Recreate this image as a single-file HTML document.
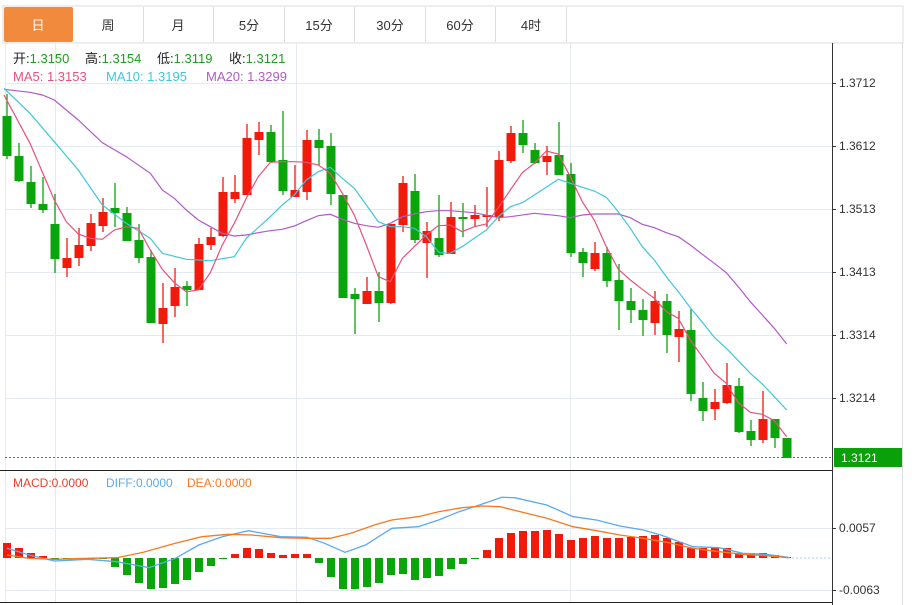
<!DOCTYPE html>
<html><head><meta charset="utf-8"><style>
body{margin:0;background:#fff;font-family:"Liberation Sans","Noto Sans CJK SC",sans-serif;}
svg{display:block}
</style></head><body>
<svg id="s" width="912" height="605" xmlns="http://www.w3.org/2000/svg" font-family="Liberation Sans, Noto Sans CJK SC, sans-serif">
<rect x="0" y="0" width="912" height="605" fill="#fff"/>
<rect x="3" y="6" width="900" height="37" fill="#fff" stroke="#dcdcdc"/>
<rect x="4" y="7" width="69" height="35" rx="2" fill="#f28a3e"/>
<g stroke="#dcdcdc"><line x1="143.5" y1="7" x2="143.5" y2="42"/><line x1="213.5" y1="7" x2="213.5" y2="42"/><line x1="284.5" y1="7" x2="284.5" y2="42"/><line x1="354.5" y1="7" x2="354.5" y2="42"/><line x1="425.5" y1="7" x2="425.5" y2="42"/><line x1="495.5" y1="7" x2="495.5" y2="42"/><line x1="566.5" y1="7" x2="566.5" y2="42"/><line x1="902.5" y1="42" x2="902.5" y2="605"/></g>
<g font-size="13" text-anchor="middle" fill="#333"><text x="38" y="30" fill="#fff">日</text><text x="108" y="30">周</text><text x="178" y="30">月</text><text x="249" y="30">5分</text><text x="319" y="30">15分</text><text x="390" y="30">30分</text><text x="460" y="30">60分</text><text x="531" y="30">4时</text></g>
<g id="grid" stroke="#e4eaf0" stroke-width="1"></g>
<g font-size="13"><text y="63" fill="#222"><tspan x="13">开:</tspan><tspan fill="#1aa01a">1.3150</tspan><tspan x="85">高:</tspan><tspan fill="#1aa01a">1.3154</tspan><tspan x="157">低:</tspan><tspan fill="#1aa01a">1.3119</tspan><tspan x="229">收:</tspan><tspan fill="#1aa01a">1.3121</tspan></text>
<text y="81" fill="#e9507a"><tspan x="13">MA5: 1.3153</tspan><tspan fill="#3fc6dc" x="106">MA10: 1.3195</tspan><tspan fill="#b05ac8" x="206">MA20: 1.3299</tspan></text></g>
<g id="c"></g>
<g id="m"></g>
<line x1="832.5" y1="43" x2="832.5" y2="605" stroke="#333"/>
<line x1="0" y1="470.5" x2="832" y2="470.5" stroke="#222"/>
<line x1="0" y1="602.5" x2="832" y2="602.5" stroke="#222"/>
<line x1="5" y1="457.5" x2="832" y2="457.5" stroke="#1aa01a" stroke-dasharray="2,2"/>
<rect x="834" y="448" width="68" height="19" fill="#0aa00a"/>
<text x="841" y="462" font-size="12" fill="#fff">1.3121</text>
<g font-size="12" fill="#333" id="lab"></g>
<text y="487" font-size="12" fill="#f03c28"><tspan x="13">MACD:0.0000</tspan><tspan fill="#5aaaf0" x="106">DIFF:0.0000</tspan><tspan fill="#f57a20" x="187">DEA:0.0000</tspan></text>
</svg>
<script>
var NS="http://www.w3.org/2000/svg";
function el(p,t,a){var e=document.createElementNS(NS,t);for(var k in a)e.setAttribute(k,a[k]);p.appendChild(e);return e;}
var g=document.getElementById('grid'),lab=document.getElementById('lab');
[[83,'1.3712'],[146,'1.3612'],[209,'1.3513'],[272,'1.3413'],[335,'1.3314'],[398,'1.3214'],[528,'0.0057'],[590,'-0.0063']].forEach(function(r){
el(g,'line',{x1:5,y1:r[0]+.5,x2:832,y2:r[0]+.5});
el(lab,'line',{x1:832,y1:r[0]+.5,x2:836,y2:r[0]+.5,stroke:'#333'});
var t=el(lab,'text',{x:839,y:r[0]+4});t.textContent=r[1];});
[55,296,570].forEach(function(x){el(g,'line',{x1:x+.5,y1:43,x2:x+.5,y2:602});});
el(g,'line',{x1:5.5,y1:43,x2:5.5,y2:602});
var C=[[1,116,156,94,159],[1,156,181,143,182],[1,182,204,166,208],[1,204,210,177,213],[1,224,259,194,273],[0,258,268,238,277],[0,245,258,228,266],[0,223,246,214,251],[0,212,226,198,232],[1,208,213,183,227],[1,213,241,207,241],[1,240,258,224,263],[1,257,323,250,323],[0,308,324,283,343],[0,287,306,268,317],[1,286,290,281,306],[0,244,290,238,290],[0,237,245,228,250],[0,192,236,177,237],[0,192,199,175,203],[0,138,195,124,195],[0,132,140,122,155],[1,132,162,125,162],[1,160,191,111,195],[0,190,197,165,197],[0,140,192,130,200],[1,140,148,129,166],[1,146,194,133,205],[1,195,298,195,298],[1,294,299,288,334],[0,291,304,277,304],[1,291,303,272,322],[0,224,303,224,304],[0,183,225,176,232],[1,191,240,174,243],[0,231,243,222,278],[1,238,255,195,257],[0,217,254,202,254],[1,217,219,203,237],[0,215,219,205,227],[0,215,217,187,227],[0,160,217,151,221],[0,133,161,126,163],[1,133,145,120,153],[1,150,163,143,164],[0,156,162,146,175],[1,155,175,122,175],[1,174,253,163,257],[1,252,263,248,277],[0,253,269,242,271],[1,253,281,247,287],[1,280,301,264,330],[1,301,310,288,323],[1,310,320,299,336],[0,301,323,291,335],[1,301,335,294,353],[0,329,337,311,362],[1,330,394,309,401],[1,398,411,382,421],[0,402,409,389,420],[0,385,403,363,404],[1,386,432,378,433],[1,431,440,420,446],[0,419,440,391,443],[1,419,438,419,448],[1,438,458,438,458]];
var cg=document.getElementById('c');
C.forEach(function(c,i){var x=7+12*i,col=c[0]?'#0aa50a':'#f21a0a';
el(cg,'line',{x1:x,y1:c[3],x2:x,y2:c[4],stroke:col,'stroke-width':1.3});
el(cg,'rect',{x:x-4.5,y:c[1],width:9,height:Math.max(1.5,c[2]-c[1]),fill:col});});
function pl(pts,col,f,ox){var s=pts.map(function(p){return (ox+p[0]/f).toFixed(1)+','+(80+p[1]/3).toFixed(1)}).join(' ');el(cg,'polyline',{points:s,fill:'none',stroke:col,'stroke-width':1.2});}
var ma5a=[[12,45],[90,190],[163,360],[199,425],[235,462],[271,475],[307,478],[343,450],[379,440],[415,445],[451,510],[487,568],[523,608],[559,635],[595,630],[631,578],[667,495],[703,430],[739,355],[775,290],[811,247],[847,245],[883,245],[919,247],[955,255],[991,280],[1027,340],[1063,405],[1099,495],[1135,590],[1171,605],[1207,535],[1243,500],[1279,465],[1315,437],[1320,437]];
var ma5b=[[0,437],[30,435],[66,455],[103,440],[139,432],[175,383],[211,330],[247,278],[283,250],[319,213],[355,222],[391,290],[427,365],[463,420],[499,500],[535,568],[571,600],[607,628],[643,655],[679,695],[715,715],[751,780],[787,830],[823,880],[859,910],[895,968],[931,997],[967,1003],[1003,1022],[1040,1070]];
var ma10a=[[12,25],[90,100],[163,185],[235,270],[307,375],[379,430],[451,475],[487,520],[559,538],[631,542],[703,530],[739,475],[811,410],[847,375],[883,345],[919,300],[955,275],[991,262],[1027,295],[1063,325],[1099,375],[1135,425],[1171,440],[1207,440],[1243,445],[1279,470],[1315,515],[1320,518]];
var ma10b=[[0,518],[30,520],[66,500],[103,475],[139,450],[175,410],[211,380],[247,368],[283,345],[319,322],[355,298],[391,310],[427,322],[463,333],[499,352],[535,395],[571,445],[607,500],[643,540],[679,590],[715,635],[751,683],[787,727],[823,772],[859,805],[895,842],[931,880],[967,912],[1003,950],[1040,990]];
var ma20a=[[12,28],[90,37],[127,45],[163,60],[235,120],[307,188],[379,230],[451,280],[487,330],[523,355],[559,390],[595,420],[631,440],[667,460],[703,468],[739,465],[775,458],[811,452],[847,448],[883,438],[919,422],[955,407],[991,403],[1027,418],[1063,430],[1099,437],[1135,442],[1171,430],[1207,410],[1243,402],[1279,395],[1315,392],[1320,392]];
var ma20b=[[0,392],[30,392],[103,398],[175,413],[211,410],[283,400],[355,407],[391,413],[427,405],[463,402],[535,402],[571,413],[607,433],[643,443],[679,458],[715,470],[751,495],[787,523],[823,550],[859,578],[895,620],[931,665],[967,705],[1003,745],[1040,792]];
pl(ma20a,'#b05ac8',3,0);pl(ma20b,'#b05ac8',3,440);
pl(ma10a,'#3fc6dc',3,0);pl(ma10b,'#3fc6dc',3,440);
pl(ma5a,'#e9507a',3,0);pl(ma5b,'#e9507a',3,440);
var mg=document.getElementById('m');
var H=[543,548,553,556,560,559,559,559,559,567,575,583,589,588,584,580,572,566,559,554,548,549,553,555,554,554,563,577,589,589,587,583,575,574,580,578,576,569,564,559,550,538,533,531,531,530,534,540,538,536,538,538,537,536,535,538,542,548,548,548,548,553,553,553,555,557];
var Z=558;
H.forEach(function(h,i){var x=7+12*i,up=h<Z;var col=up?'#f21a0a':'#0aa50a';
var y=up?h:Z,hh=Math.max(1,Math.abs(h-Z));el(mg,'rect',{x:x-4,y:y,width:8,height:hh,fill:col});});
el(mg,'line',{x1:788,y1:Z,x2:832,y2:Z,stroke:'#9fd8ee','stroke-dasharray':'2,2'});
function ml(pts,col){var s=pts.map(function(p){return (p[0]/1.71).toFixed(1)+','+(465+p[1]/3).toFixed(1)}).join(' ');el(mg,'polyline',{points:s,fill:'none',stroke:col,'stroke-width':1.3});}
ml([[12,250],[50,270],[93,288],[150,283],[200,290],[255,308],[300,280],[340,240],[380,215],[425,197],[480,215],[525,217],[555,235],[590,262],[625,240],[670,190],[715,185],[750,165],[785,140],[820,120],[858,97],[880,98],[935,120],[980,155],[1020,165],[1060,183],[1100,195],[1130,210],[1185,245],[1230,248],[1270,265],[1310,268],[1348,277]],'#5aaaf0');
ml([[12,270],[50,280],[93,283],[150,280],[200,278],[245,262],[300,235],[345,215],[390,208],[430,210],[480,218],[525,220],[565,220],[600,205],[640,180],[670,165],[715,155],[750,140],[790,128],[825,123],[855,125],[890,140],[935,160],[980,185],[1020,197],[1060,210],[1100,220],[1140,232],[1185,250],[1230,260],[1270,268],[1310,272],[1348,278]],'#f57a20');
</script>
</body></html>
